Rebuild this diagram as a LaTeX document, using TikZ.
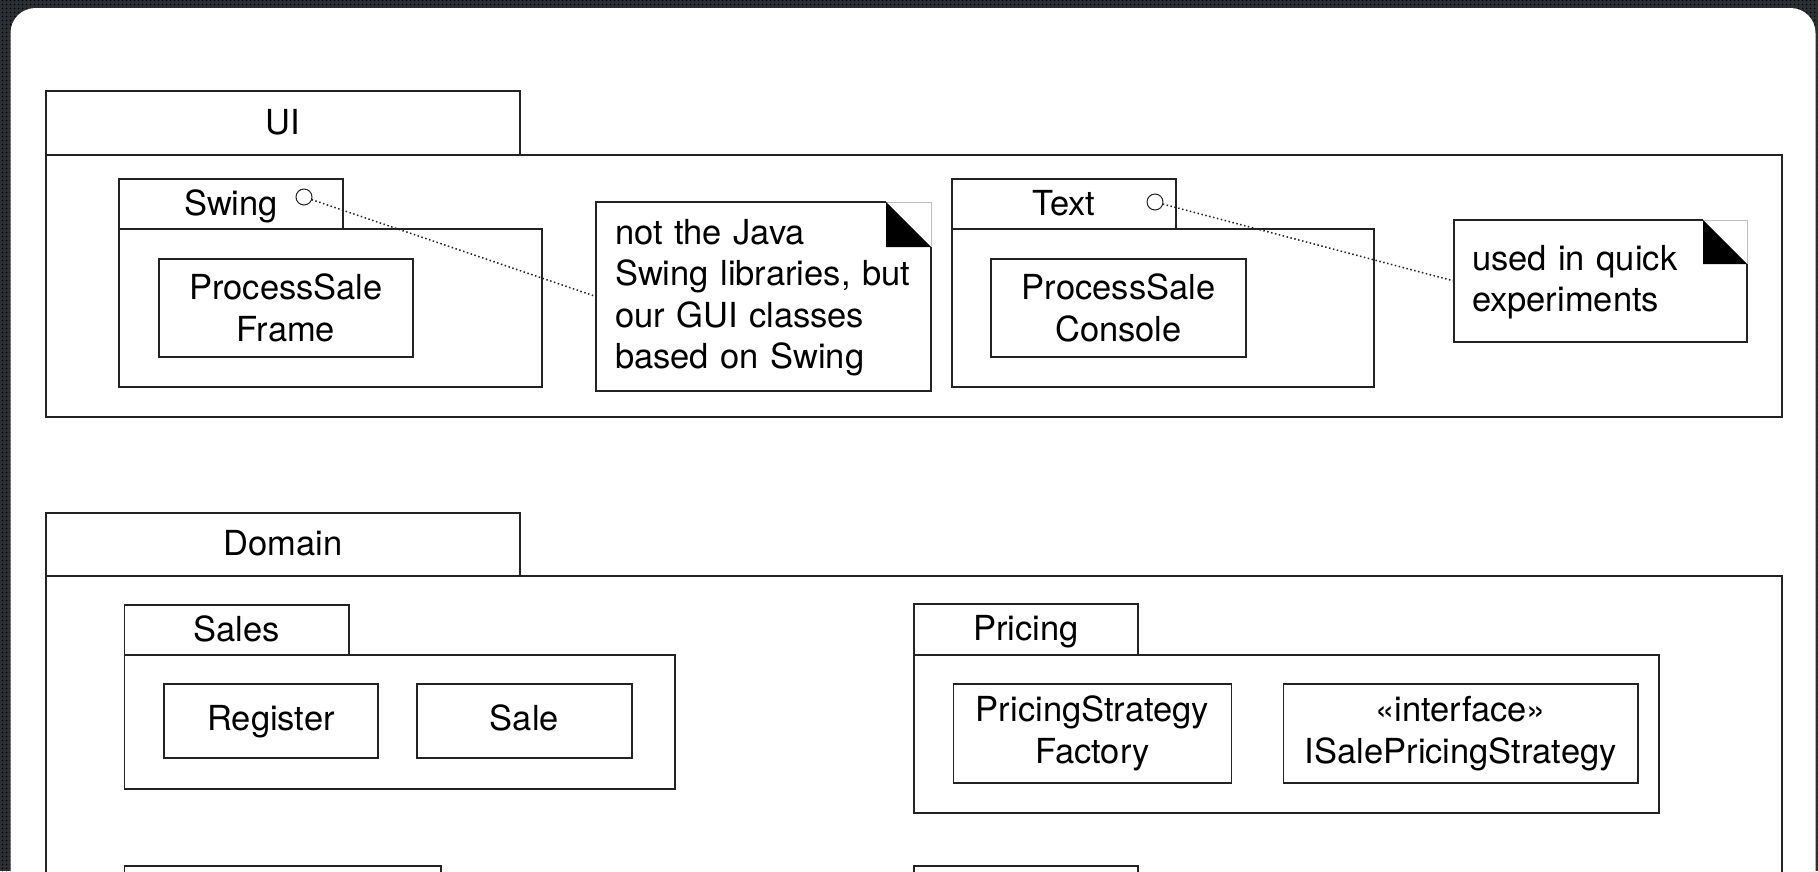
\documentclass[tikz,border=0pt]{standalone}
\usepackage{fontspec}
\setmainfont{TeX Gyre Heros}
\usetikzlibrary{patterns.meta}

\definecolor{framebg}{RGB}{44,48,52}
\definecolor{ink}{RGB}{35,35,35}

\tikzset{
  every node/.style={outer sep=0pt},
  box/.style={draw=ink, line width=1.2pt, fill=white, inner sep=0pt, anchor=north west},
  tab/.style={box, font=\fontsize{34.5}{41.5}\selectfont, text height=22pt, text depth=0pt},
  pkgbody/.style={box},
  cls/.style={box, align=center, font=\fontsize{34.5}{42.5}\selectfont},
  clsline/.style={cls, text height=25pt, text depth=7pt},
  note/.style={fill=white, inner ysep=0pt, anchor=north west,
               align=left, font=\fontsize{34.5}{41.5}\selectfont},
  lolli/.style={circle, draw=ink, line width=1pt, fill=white, minimum size=16pt, inner sep=0pt},
  link/.style={ink, line width=1.5pt, dash pattern=on 1.5pt off 2.5pt},
  notefold/.style={fill=black},
  noteedge/.style={draw=ink, line width=1.2pt},
  notecorner/.style={draw=black!25, line width=0.8pt},
}

\begin{document}
\begin{tikzpicture}[x=1pt, y=-1pt]
\useasboundingbox (0,0) rectangle (1818,871);
\clip (0,0) rectangle (1818,871);

% textured frame and white sheet
\fill[framebg] (0,0) rectangle (1818,871);
\fill[pattern={Dots[distance=4pt, radius=1.1pt]}, pattern color=black] (0,0) rectangle (1818,871);
\fill[white, rounded corners=25pt] (10.5,900) -- (10.5,8) -- (1815.5,8) -- (1815.5,900);

% ---------- UI package ----------
\node[tab, minimum width=474pt, minimum height=64pt] (uitab) at (46,91) {UI};
\node[pkgbody, minimum width=1736pt, minimum height=262pt] (uibody) at (46,155) {};

% Swing subpackage
\node[tab, minimum width=224pt, minimum height=50pt] (swingtab) at (119,179) {Swing};
\node[pkgbody, minimum width=423pt, minimum height=158pt] (swingbody) at (119,229) {};
\node[cls, minimum width=254pt, minimum height=98pt] (frame) at (159,259) {ProcessSale\\Frame};

% Text subpackage
\node[tab, minimum width=224pt, minimum height=50pt] (texttab) at (952,179) {Text};
\node[pkgbody, minimum width=422pt, minimum height=158pt] (textbody) at (952,229) {};
\node[cls, minimum width=255pt, minimum height=98pt] (console) at (991,259) {ProcessSale\\Console};

% notes
\node[note, inner xsep=19pt, text width=297pt, text height=42pt, text depth=147pt] (note1) at (596,202)
  {not the Java\\Swing libraries, but\\our GUI classes\\based on Swing};
\draw[noteedge] ([xshift=-45pt]note1.north east) -- (note1.north west) -- (note1.south west)
  -- (note1.south east) -- ([yshift=-45pt]note1.north east);
\draw[notecorner] ([xshift=-45pt]note1.north east) -- (note1.north east) -- ([yshift=-45pt]note1.north east);
\fill[notefold] ([xshift=-45pt]note1.north east) -- ([xshift=-45pt,yshift=-45pt]note1.north east)
  -- ([yshift=-45pt]note1.north east) -- cycle;

\node[note, inner xsep=18pt, text width=257pt, text height=50pt, text depth=72pt] (note2) at (1454,220)
  {used in quick\\experiments};
\draw[noteedge] ([xshift=-44pt]note2.north east) -- (note2.north west) -- (note2.south west)
  -- (note2.south east) -- ([yshift=-44pt]note2.north east);
\draw[notecorner] ([xshift=-44pt]note2.north east) -- (note2.north east) -- ([yshift=-44pt]note2.north east);
\fill[notefold] ([xshift=-44pt]note2.north east) -- ([xshift=-44pt,yshift=-44pt]note2.north east)
  -- ([yshift=-44pt]note2.north east) -- cycle;

% lollipops and their note links
\node[lolli] (swingport) at (304,197) {};
\node[lolli] (textport) at (1155,202) {};
\draw[link] (swingport) -- (note1.west);
\draw[link] (textport) -- (note2.west);

% ---------- Domain package ----------
\node[tab, minimum width=474pt, minimum height=63pt] (domtab) at (46,513) {Domain};
\node[pkgbody, minimum width=1736pt, minimum height=400pt] (dombody) at (46,576) {};

% Sales subpackage
\node[tab, minimum width=224.5pt, minimum height=50pt] (salestab) at (124.5,605) {Sales};
\node[pkgbody, minimum width=550.5pt, minimum height=134pt] (salesbody) at (124.5,655) {};
\node[clsline, minimum width=214pt, minimum height=74pt] (register) at (164,684) {Register};
\node[clsline, minimum width=215pt, minimum height=74pt] (sale) at (417,684) {Sale};

% Pricing subpackage
\node[tab, minimum width=224pt, minimum height=51pt] (pricetab) at (914,604) {Pricing};
\node[pkgbody, minimum width=745pt, minimum height=158pt] (pricebody) at (914,655) {};
\node[cls, minimum width=278pt, minimum height=99pt] (factory) at (953.5,684) {PricingStrategy\\Factory};
\node[cls, minimum width=354.5pt, minimum height=99pt] (strategy) at (1283.5,684) {«interface»\\ISalePricingStrategy};

% further subpackages below
\node[tab, minimum width=316.5pt, minimum height=50pt] (lowtabA) at (124.5,866) {};
\node[tab, minimum width=224pt, minimum height=50pt] (lowtabB) at (914,866) {};
\end{tikzpicture}
\end{document}
